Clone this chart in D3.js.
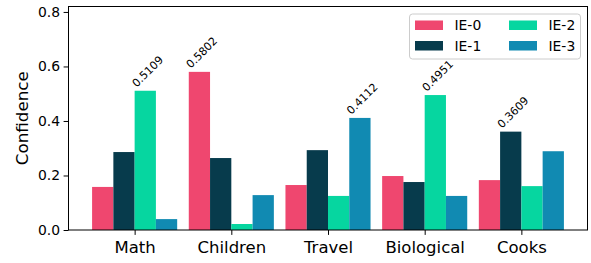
<!DOCTYPE html>
<html>
<head>
<meta charset="utf-8">
<script src="https://cdn.jsdelivr.net/npm/d3@7"></script>
<style>
  body { margin: 0; background: #fff; }
  svg { display: block; font-family: 'DejaVu Sans', sans-serif; }
</style>
</head>
<body>
<div id="chart"></div>
<script>
const categories = ['Math', 'Children', 'Travel', 'Biological', 'Cooks']
const seriesNames = ['IE-0', 'IE-1', 'IE-2', 'IE-3']
const ie0 = [0.158, 0.5802, 0.165, 0.198, 0.183]
const ie1 = [0.286, 0.264, 0.293, 0.176, 0.3609]
const ie2 = [0.5109, 0.022, 0.125, 0.4951, 0.161]
const ie3 = [0.040, 0.128, 0.4112, 0.125, 0.289]
const colors = ['#EF476F', '#073B4C', '#06D6A0', '#118AB2']
const yTicks = [0.0, 0.2, 0.4, 0.6, 0.8]

const series = [ie0, ie1, ie2, ie3]

const W = 591, H = 263
const margin = { top: 6.5, right: 3.5, bottom: 33, left: 68.5 }
const width = W - margin.left - margin.right
const height = H - margin.top - margin.bottom

const svg = d3.select('#chart')
  .append('svg')
  .attr('width', W)
  .attr('height', H)

const g = svg.append('g')
  .attr('transform', 'translate(' + margin.left + ',' + margin.top + ')')

// bar width 0.22 in category units, 5% margin like matplotlib
const barW = 0.22
const lo = -2 * barW, hi = categories.length - 1 + 2 * barW
const pad = (hi - lo) * 0.05
const x = d3.scaleLinear().domain([lo - pad, hi + pad]).range([0, width])
const y = d3.scaleLinear().domain([0, 0.82]).range([height, 0])

// bars
series.forEach((vals, s) => {
  g.selectAll('.bar-' + s)
    .data(vals)
    .enter()
    .append('rect')
    .attr('x', (d, i) => x(i + (s - 2) * barW))
    .attr('y', d => y(d))
    .attr('width', x(barW) - x(0))
    .attr('height', d => y(0) - y(d))
    .attr('fill', colors[s])
})

// value labels on the tallest bar of each group
categories.forEach((c, i) => {
  const vals = series.map(v => v[i])
  const s = vals.indexOf(d3.max(vals))
  const bx = x(i + (s - 2) * barW) + 2
  const by = y(vals[s]) - 3
  g.append('text')
    .attr('transform', 'translate(' + bx + ',' + by + ') rotate(-45)')
    .attr('font-size', 11)
    .attr('fill', '#000')
    .text(vals[s].toFixed(4))
})

// frame
g.append('rect')
  .attr('width', width)
  .attr('height', height)
  .attr('fill', 'none')
  .attr('stroke', '#000')
  .attr('stroke-width', 1)

// y axis
const yAxis = g.append('g')
  .call(d3.axisLeft(y).tickValues(yTicks).tickFormat(d3.format('.1f')).tickSize(4.9).tickPadding(3.5))
yAxis.select('.domain').remove()
yAxis.selectAll('text').attr('font-size', 13.9).attr('font-family', 'DejaVu Sans').attr('fill', '#000')

// x axis
const xAxis = g.append('g')
  .attr('transform', 'translate(0,' + height + ')')
  .call(d3.axisBottom(x).tickValues(d3.range(categories.length)).tickFormat(i => categories[i]).tickSize(4.9).tickPadding(6))
xAxis.select('.domain').remove()
xAxis.selectAll('text').attr('font-size', 16.5).attr('font-family', 'DejaVu Sans').attr('fill', '#000')

// y label
svg.append('text')
  .attr('transform', 'translate(28,' + (margin.top + height / 2) + ') rotate(-90)')
  .attr('text-anchor', 'middle')
  .attr('font-size', 16.7)
  .text('Confidence')

// legend
const leg = svg.append('g').attr('transform', 'translate(409.5,14)')
leg.append('rect')
  .attr('width', 171)
  .attr('height', 45)
  .attr('rx', 3)
  .attr('fill', '#fff')
  .attr('fill-opacity', 0.8)
  .attr('stroke', '#ccc')
const colX = [5.5, 99.5]
const rowY = [11, 31.5]
seriesNames.forEach((name, s) => {
  const cx = colX[Math.floor(s / 2)], cy = rowY[s % 2]
  leg.append('rect')
    .attr('x', cx)
    .attr('y', cy - 4.5)
    .attr('width', 28)
    .attr('height', 9.5)
    .attr('fill', colors[s])
  leg.append('text')
    .attr('x', cx + 39.5)
    .attr('y', cy)
    .attr('dy', '0.36em')
    .attr('font-size', 13.9)
    .text(name)
})
</script>
</body>
</html>
